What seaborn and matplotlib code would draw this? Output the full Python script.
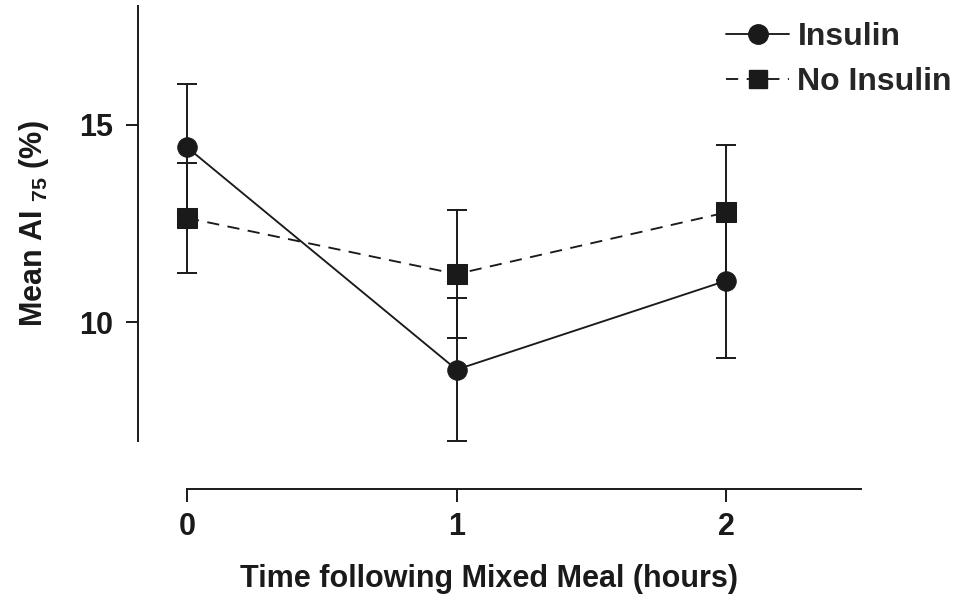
import pandas as pd
import matplotlib
matplotlib.use("Agg")
import matplotlib.pyplot as plt
from matplotlib.lines import Line2D
import seaborn as sns

# data
times = [0, 1, 2]
insulin_mean = [14.43, 8.80, 11.05]
insulin_err = [1.60, 1.81, 1.95]
noins_mean = [12.64, 11.22, 12.78]
noins_err = [1.39, 1.63, 1.71]
groups = ["Insulin", "No Insulin"]
xticks = [0, 1, 2]
yticks = [10, 15]

df = pd.DataFrame({
    "time": times + times,
    "mean": insulin_mean + noins_mean,
    "err": insulin_err + noins_err,
    "group": [groups[0]] * 3 + [groups[1]] * 3,
})

sns.set_style("ticks")
plt.rcParams["font.family"] = ["Liberation Sans", "DejaVu Sans"]
plt.rcParams["font.weight"] = "bold"
plt.rcParams["mathtext.fontset"] = "custom"
plt.rcParams["mathtext.rm"] = "Liberation Sans"

ink = "#1a1a1a"
fig = plt.figure(figsize=(9.74, 6.08), dpi=100)
ax = fig.add_axes([0.1417, 0.2752, 0.7421, 0.7143])

# error bars first so markers sit on top
for g in groups:
    sub = df[df["group"] == g]
    ax.errorbar(sub["time"], sub["mean"], yerr=sub["err"], fmt="none",
                ecolor=ink, elinewidth=1.4, capsize=7, capthick=1.4, zorder=1)

sns.lineplot(data=df, x="time", y="mean", style="group",
             markers={"Insulin": "o", "No Insulin": "s"},
             dashes={"Insulin": "", "No Insulin": (6.5, 4.5)},
             color=ink, markersize=14, markeredgecolor=ink,
             linewidth=1.35, legend=False, ax=ax, zorder=2)

ax.set_xlim(-0.182, 2.5)
ax.set_ylim(7, 18)
ax.set_xticks(xticks)
ax.set_yticks(yticks)
ax.tick_params(axis="both", labelsize=22, width=1.4, length=9, color=ink,
               labelcolor=ink)
ax.tick_params(axis="x", pad=7)
ax.tick_params(axis="y", pad=9)
for lab in ax.get_xticklabels() + ax.get_yticklabels():
    lab.set_fontweight("bold")

sns.despine(ax=ax)
ax.spines["bottom"].set_position(("outward", 35))
ax.spines["bottom"].set_bounds(0, 2.5)
for s in ["left", "bottom"]:
    ax.spines[s].set_linewidth(1.4)
    ax.spines[s].set_color(ink)

ax.set_xlabel("Time following Mixed Meal (hours)", fontsize=22,
              fontweight="bold", color=ink)
ax.xaxis.set_label_coords(0.486, -0.284)
ax.set_ylabel(r"Mean AI $_{\mathrm{75}}$ (%)", fontsize=22,
              fontweight="bold", color=ink, labelpad=20)

handles = [
    Line2D([], [], color=ink, marker="o", markersize=14, linewidth=1.35),
    Line2D([], [], color=ink, marker="s", markersize=13, linewidth=1.35,
           linestyle=(0, (6.5, 4.5))),
]
fig.legend(handles, groups, loc="upper left",
           bbox_to_anchor=(0.722, 1.0), frameon=False,
           prop={"size": 23, "weight": "bold"}, handlelength=2.0,
           handletextpad=0.25, labelspacing=0.45, borderaxespad=0.3)

fig.savefig("out.png", dpi=100, facecolor="white")
